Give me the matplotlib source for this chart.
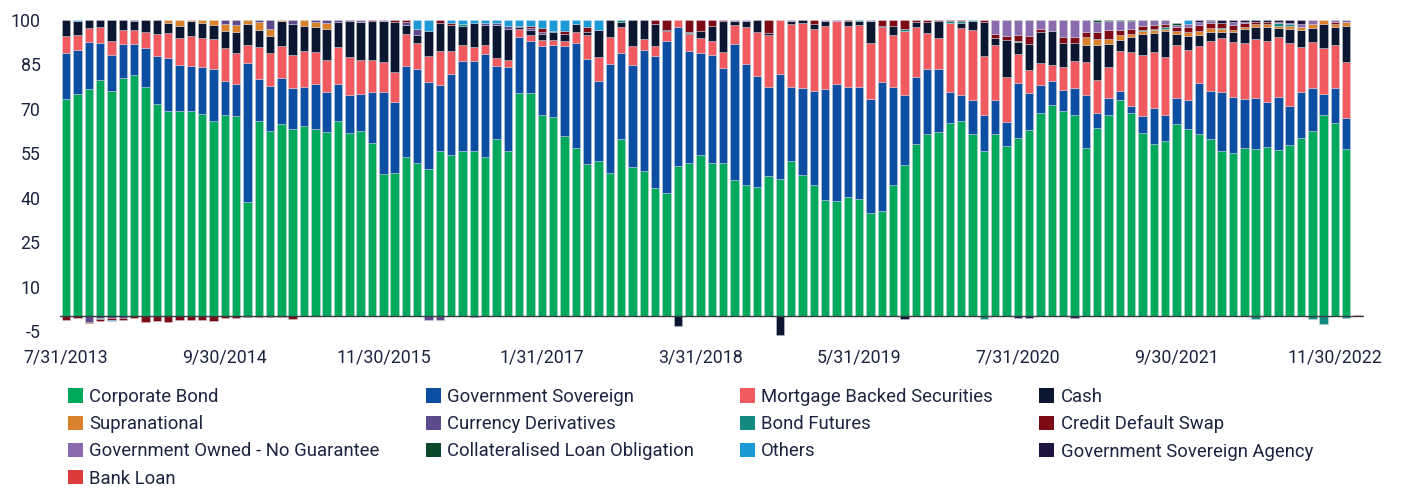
import matplotlib
matplotlib.use("Agg")
import matplotlib.pyplot as plt
from matplotlib.patches import Patch
import numpy as np
import pandas as pd

plt.rcParams['font.family'] = ['Roboto', 'DejaVu Sans']
plt.rcParams['axes.unicode_minus'] = False

# ---------------- data ----------------
dates = pd.date_range("2013-07-31", periods=115, freq="ME")
categories = [f"{d.month}/{d.day}/{d.year}" for d in dates]
tick_labels = ["7/31/2013", "9/30/2014", "11/30/2015", "1/31/2017", "3/31/2018",
               "5/31/2019", "7/31/2020", "9/30/2021", "11/30/2022"]

corporate_bond = [
    73.3, 74.9, 76.6, 79.6, 76.0, 80.5, 81.4, 77.4, 71.7, 69.3,
    69.4, 69.4, 68.3, 66.0, 67.9, 67.5, 38.5, 65.8, 62.4, 64.8,
    63.3, 64.3, 63.1, 62.3, 65.8, 62.0, 62.4, 58.4, 47.9, 48.5,
    53.7, 51.7, 49.7, 55.7, 54.6, 55.9, 55.9, 53.7, 60.0, 55.9,
    75.3, 75.4, 68.1, 67.3, 61.0, 56.9, 51.3, 52.4, 48.4, 59.8,
    50.5, 48.9, 43.2, 41.6, 50.6, 51.7, 54.6, 51.7, 51.7, 46.1,
    44.3, 43.5, 47.4, 46.2, 52.5, 47.8, 44.3, 39.3, 38.8, 40.2,
    39.6, 34.8, 35.4, 44.2, 51.2, 58.2, 61.6, 62.3, 65.2, 66.0,
    61.4, 55.9, 61.5, 57.4, 60.2, 62.9, 68.6, 71.3, 69.3, 67.9,
    56.7, 63.4, 67.9, 73.0, 68.5, 62.0, 58.0, 59.1, 64.8, 63.2,
    61.4, 59.8, 55.8, 55.2, 56.8, 56.6, 57.3, 56.2, 57.8, 60.2,
    62.5, 67.9, 65.2, 56.4, 0]

government_sovereign = [
    15.6, 15.1, 15.9, 12.6, 12.1, 11.5, 10.6, 13.0, 16.3, 17.8,
    15.5, 15.2, 16.0, 17.6, 11.5, 11.0, 46.9, 14.2, 15.2, 15.7,
    13.9, 13.2, 15.2, 13.5, 12.5, 12.7, 12.7, 17.3, 27.9, 23.8,
    30.9, 31.9, 29.4, 22.4, 27.3, 30.4, 30.3, 34.9, 24.4, 28.2,
    19.1, 17.5, 23.2, 24.3, 30.3, 35.3, 35.5, 27.0, 36.9, 29.2,
    34.4, 41.1, 44.8, 51.3, 46.9, 38.0, 34.3, 36.6, 32.2, 45.9,
    41.0, 37.5, 30.1, 35.5, 25.0, 29.4, 31.9, 37.4, 39.6, 37.3,
    37.7, 38.5, 43.7, 33.3, 23.6, 22.5, 21.8, 21.3, 10.6, 8.6,
    11.7, 12.0, 11.6, 8.3, 18.7, 12.6, 9.6, 8.2, 7.2, 9.3,
    17.9, 5.1, 5.8, 3.2, 2.6, 5.5, 12.3, 8.8, 9.0, 9.9,
    17.5, 16.4, 19.9, 18.7, 16.4, 17.0, 14.9, 17.7, 13.3, 15.6,
    14.7, 7.2, 12.0, 10.6, 0]

mortgage_backed = [
    5.8, 5.0, 4.9, 5.3, 4.8, 4.5, 4.6, 5.4, 7.3, 8.5,
    9.1, 10.0, 9.6, 9.9, 11.0, 10.3, 6.1, 10.9, 11.4, 10.8,
    10.9, 12.2, 11.0, 10.7, 12.5, 12.9, 11.4, 10.9, 10.0, 10.2,
    10.6, 8.5, 8.9, 11.3, 7.6, 5.3, 4.6, 3.0, 2.9, 2.4,
    2.7, 2.0, 2.0, 1.7, 1.7, 3.6, 8.1, 8.1, 9.1, 8.5,
    6.3, 3.7, 3.3, 3.3, 2.5, 5.6, 5.0, 4.7, 5.2, 6.3,
    12.5, 15.1, 17.5, 18.3, 21.2, 21.8, 20.8, 21.3, 21.2, 20.6,
    21.0, 18.9, 18.7, 17.6, 21.6, 16.8, 12.3, 10.3, 23.1, 22.7,
    23.6, 20.0, 18.6, 15.1, 9.7, 7.6, 7.2, 5.4, 7.5, 9.1,
    11.3, 11.3, 10.6, 13.5, 18.0, 20.7, 18.9, 19.7, 17.9, 16.9,
    12.4, 16.8, 18.3, 18.7, 19.2, 20.0, 20.7, 20.4, 21.0, 15.0,
    15.4, 15.6, 14.4, 18.8, 0]

cash = [
    5.3, 4.5, 2.6, 2.5, 7.1, 3.5, 3.2, 4.2, 4.7, 3.3,
    4.1, 5.2, 5.2, 4.8, 5.9, 7.3, 7.2, 5.8, 5.5, 8.2,
    10.6, 8.4, 8.5, 10.5, 8.4, 12.2, 12.8, 13.1, 13.9, 16.8,
    3.1, 2.8, 8.2, 9.6, 8.8, 6.4, 8.2, 6.7, 11.1, 10.6,
    0.7, 1.8, 2.0, 2.5, 2.3, 2.9, 0.9, 9.2, 5.6, 1.9,
    8.8, 6.3, 7.4, 0.5, -3.4, 0.3, 2.5, 4.9, 10.5, 1.3,
    1.8, 3.9, 0.7, -6.2, 0.9, 1.0, 1.5, 1.6, 0, 1.7,
    1.3, 7.4, 0.3, 2.8, -0.8, 1.7, 3.5, 5.7, 0, 1.6,
    3.1, 11.3, 2.1, 12.3, 3.9, 8.8, 10.7, 11.3, 8.1, 5.8,
    5.8, 11.8, 7.6, 3.6, 5.1, 7.1, 6.5, 8.8, 3.6, 4.7,
    3.8, 3.1, 1.8, 3.2, 4.5, 4.2, 4.6, 3.1, 4.8, 5.8,
    4.8, 8.1, 5.9, 12.3, 0]

supranational = [
    0, 0, 0, 0, 0, 0, 0, 0, 0, 1.1,
    1.9, 0.2, 0.9, 1.7, 2.4, 2.2, 1.3, 2.5, 2.5, 0.5,
    0, 1.9, 1.5, 1.9, 0, 0, 0, 0, 0, 0,
    0, 0, 0, 0, 0, 0, 0, 0, 0, 0,
    0, 0, 0, 0, 0, 0, 0, 0, 0, 0,
    0, 0, 0, 0, 0, 0, 0, 0, 0, 0,
    0, 0, 0, 0, 0, 0, 0, 0, 0, 0,
    0, 0, 0, 0, 0, 0, 0, 0, 0, 0,
    0, 0, 0, 0, 0, 0, 0, 0, 0, 0,
    2.5, 1.9, 1.7, 1.5, 1.1, 0.9, 0.9, 0.7, 1.1, 1.3,
    1.1, 1.1, 1.1, 0.8, 0.9, 0.7, 1.1, 0.7, 1.1, 1.1,
    1.2, 1.2, 1.2, 1.1, 0]

currency_derivatives = [
    0, 0, -1.8, -0.6, -0.7, -0.7, 0.2, 0, 0, 0,
    0, 0, 0, 0, 1.3, 1.7, 0, 0.8, 3.0, 0,
    1.3, 0, 0.7, 1.1, 0.8, 0.2, 0, 0, 0, 0,
    0.9, 2.2, -1.2, -1.2, 0, 0, 0, 0.6, 0.5, 0.9,
    0.2, 0.6, 0.8, 0, 0, 0, 0, 0, 0, 0,
    0, 0, 0, 0, 0, 0, 0, 0, 0, 0,
    0, 0, 0, 0, 0, 0, 0, 0, 0, 0,
    0, 0, 0, 0, 0, 0, 0, 0, 0, 0,
    0, 0, 0, 0, 0, 0, 0, 0, 0, 0,
    0, 0, 0, 0, 0, 0, 0, 0, 0, 0,
    0, 0, 0, 0, 0, 0, 0, 0, 0, 0,
    0, 0, 0, 0, 0]

bond_futures = [
    0, 0, 0, -0.2, 0, 0, 0, 0, 0, 0,
    0, 0, 0, 0, 0, 0, 0, 0, 0, 0,
    0, 0, 0, 0, 0, 0, 0, 0, 0, 0,
    0, 0, 0, 0, 0, 0.6, 0, 0, 0, 0,
    0, 0, 0, 0.5, 0, 0, 0, 0, 0, 0.6,
    0, 0, 0, 0, 0, 0.3, 0, 0, 0, 0,
    0, 0, 0, 0, 0, 0, 0, 0, 0, 0,
    0.4, 0, 0, 0, 0.5, 0, 0, 0, 0.6, 0.7,
    0.2, -0.8, 0, 0, 0.3, 0, 0, 0, 0, 0,
    0, 0, 0, 0, 0, 0.5, 0.5, 0.4, 0, 0,
    0, 0, 0.3, 0, 0, -0.8, 0, 0.8, 0.8, 0,
    -1.0, -2.7, 0, -0.5, 0]

credit_default_swap = [
    -1.1, -0.7, -0.6, -0.8, -0.5, -0.6, -0.7, -2.0, -1.5, -1.9,
    -1.1, -1.3, -1.2, -1.6, -0.7, -0.6, -0.2, -0.2, -0.2, -0.2,
    -0.8, 0, 0, 0, 0, 0, 0, 0.3, 0, 0.7,
    0.8, 0, 0, 1.0, 0.7, 0, 0, 0, 0, 0,
    0, 0.7, 1.2, 0, 1.0, 0, 1.7, 0, 0, 0,
    0, 0, 1.3, 3.3, 0, 4.1, 3.6, 2.1, 0.4, 0,
    0, 0, 4.3, 0, 0, 0, 1.5, 0, 0, 0.2,
    0, 0, 1.9, 2.1, 3.1, 0.8, 0.8, 0.4, 0.5, 0.4,
    0, 0.8, 1.6, 1.5, 2.2, 2.8, 0.7, 0, 2.2, 2.0,
    1.7, 2.4, 3.1, 1.7, 1.8, 1.3, 1.1, 1.0, 1.1, 1.7,
    2.1, 1.7, 1.9, 1.8, 1.1, 0.8, 0.7, 0, 0, 0,
    0, 0, 0.6, 0, 0]

gov_owned_no_guarantee = [
    0, 0, 0, 0, 0, 0, 0, 0, 0, 0,
    0, 0, 0, 0, 0, 0, 0, 0, 0, 0,
    0, 0, 0, 0, 0, 0, 0.7, 0, 0.3, 0,
    0, 0, 0, 0, 0, 0, 0, 0, 0, 0,
    0, 0, 0, 0, 0, 0, 0, 0, 0, 0,
    0, 0, 0, 0, 0, 0, 0, 0, 0, 0.4,
    0.4, 0, 0, 0, 0.4, 0, 0, 0.4, 0.4, 0,
    0, 0.4, 0, 0, 0, 0, 0, 0, 0, 0,
    0, 0, 4.6, 5.4, 4.9, 5.3, 3.3, 3.8, 5.6, 5.8,
    4.2, 3.4, 2.8, 3.1, 2.5, 2.0, 1.8, 1.5, 0.8, 1.1,
    0.9, 0.6, 0, 0.8, 0.5, 0, 0, 0.5, 0.3, 1.1,
    1.3, 0, 0.7, 0.8, 0]

collateralised_loan_obligation = [
    0, 0, 0, 0, 0, 0, 0, 0, 0, 0,
    0, 0, 0, 0, 0, 0, 0, 0, 0, 0,
    0, 0, 0, 0, 0, 0, 0, 0, 0, 0,
    0, 0, 0, 0, 0, 0, 0, 0, 0, 0,
    0, 0, 0, 0, 0, 0, 0, 0, 0, 0,
    0, 0, 0, 0, 0, 0, 0, 0, 0, 0,
    0, 0, 0, 0, 0, 0, 0, 0, 0, 0,
    0, 0, 0, 0, 0, 0, 0, 0, 0, 0,
    0, 0, 0, 0, 0, 0, 0, 0, 0, 0,
    0, 0.8, 0.5, 0.5, 0.5, 0, 0, 0, 0.6, 0,
    0, 0, 0, 0, 0, 0, 0, 0, 0, 0,
    0, 0, 0, 0, 0]

others = [
    0, 0.5, 0, 0, -0.5, 0, 0, 0, 0, 0,
    0, 0, 0, 0, 0, 0, 0, 0, 0, 0,
    0, 0, 0, 0, 0, 0, 0, 0, 0, 0,
    0, 2.9, 3.8, 0, 1.0, 1.3, 1.0, 1.1, 1.1, 2.0,
    2.0, 2.0, 2.7, 3.7, 3.7, 1.3, 2.5, 3.3, 0, 0,
    0, 0, 0, 0, 0, 0, 0, 0, 0, 0,
    0, 0, 0, 0, 0, 0, 0, 0, 0, 0,
    0, 0, 0, 0, 0, 0, 0, 0, 0, 0,
    0, 0, 0, 0, 0, 0, 0, 0, 0, 0,
    0, 0, 0, 0, 0, 0, 0, 0, 0, 1.1,
    0, 0, 0, 0, 0, 0, 0, 0, 0, 0,
    0, 0, 0, 0, 0]

gov_sovereign_agency = [
    0, 0, 0, 0, 0, 0, 0, 0, 0, 0,
    0, 0, 0, 0, 0, 0, 0, 0, 0, 0,
    0, 0, 0, 0, 0, 0, 0, 0, 0, 0,
    0, 0, 0, 0, 0, 0, -0.3, 0, 0, 0,
    0, 0, 0, 0, 0, 0, 0, 0, 0, 0,
    0, 0, 0, 0, 0, 0, 0, 0, 0, 0,
    0, 0, 0, 0, 0, 0, 0, 0, 0, 0,
    0, 0, 0, 0, 0, 0, 0, 0, 0, 0,
    0, 0, 0, 0, -0.5, -0.5, 0, 0, 0, -0.5,
    0, 0, 0, 0, 0, 0, 0, 0, 0, 0,
    0.8, 0.5, 0.8, 0.8, 0.6, 0.8, 0.7, 0.7, 0.8, 1.1,
    0, 0, 0, 0, 0]

bank_loan = [0] * 114 + [0.4]

series_names = ["Corporate Bond", "Government Sovereign", "Mortgage Backed Securities", "Cash",
                "Supranational", "Currency Derivatives", "Bond Futures", "Credit Default Swap",
                "Government Owned - No Guarantee", "Collateralised Loan Obligation", "Others",
                "Government Sovereign Agency", "Bank Loan"]
series_values = [corporate_bond, government_sovereign, mortgage_backed, cash,
                 supranational, currency_derivatives, bond_futures, credit_default_swap,
                 gov_owned_no_guarantee, collateralised_loan_obligation, others,
                 gov_sovereign_agency, bank_loan]
series_colors = ["#00A95C", "#0C4EA2", "#F15A5F", "#0B1730",
                 "#D9822B", "#5D4A8C", "#138A80", "#7D0A14",
                 "#8A6BAE", "#0A4A2A", "#1A9AD7", "#1F1340",
                 "#DB3B3B"]

# ---------------- figure ----------------
fig = plt.figure(figsize=(14.02, 4.88), dpi=100)
ax = fig.add_axes([0.0427, 0.3094, 0.9301, 0.6496])

x = np.arange(len(categories))
pos_bottom = np.zeros(len(x))
neg_bottom = np.zeros(len(x))
for name, vals, col in zip(series_names, series_values, series_colors):
    v = np.array(vals, dtype=float)
    pm = v > 0
    nm = v < 0
    if pm.any():
        ax.bar(x[pm], v[pm], bottom=pos_bottom[pm], width=0.74, color=col,
               edgecolor=(0.85, 0.86, 0.9, 0.7), linewidth=0.4)
    if nm.any():
        ax.bar(x[nm], v[nm], bottom=neg_bottom[nm], width=0.74, color=col,
               edgecolor=(0.85, 0.86, 0.9, 0.7), linewidth=0.4)
    pos_bottom = pos_bottom + np.where(pm, v, 0)
    neg_bottom = neg_bottom + np.where(nm, v, 0)

ax.axhline(0, color="#3a3d45", linewidth=1.0, zorder=5)

ax.set_xlim(-0.55, 114.55)
ax.set_ylim(-7, 100)
ax.set_yticks([100, 85, 70, 55, 40, 25, 10, -5])
tick_pos = [categories.index(t) for t in tick_labels]
ax.set_xticks(tick_pos)
ax.set_xticklabels(tick_labels)
for s in ax.spines.values():
    s.set_visible(False)
ax.tick_params(axis="both", length=0, labelsize=12.8, colors="#1d2440")
ax.tick_params(axis="y", pad=14)
ax.tick_params(axis="x", pad=8)

handles = [Patch(facecolor=c, edgecolor="none") for c in series_colors]
# column-major ordering so that the legend reads row-wise like the reference
order = [0, 4, 8, 12, 1, 5, 9, 2, 6, 10, 3, 7, 11]
leg = fig.legend([handles[i] for i in order], [series_names[i] for i in order],
                 loc="upper left", bbox_to_anchor=(0.0485, 0.205), ncol=4,
                 frameon=False, fontsize=13.3, handlelength=0.8, handleheight=0.8,
                 handletextpad=0.35, columnspacing=2.5, labelspacing=0.5,
                 borderpad=0, borderaxespad=0)
for t in leg.get_texts():
    t.set_color("#1d2440")

fig.savefig("out.png", dpi=100)
